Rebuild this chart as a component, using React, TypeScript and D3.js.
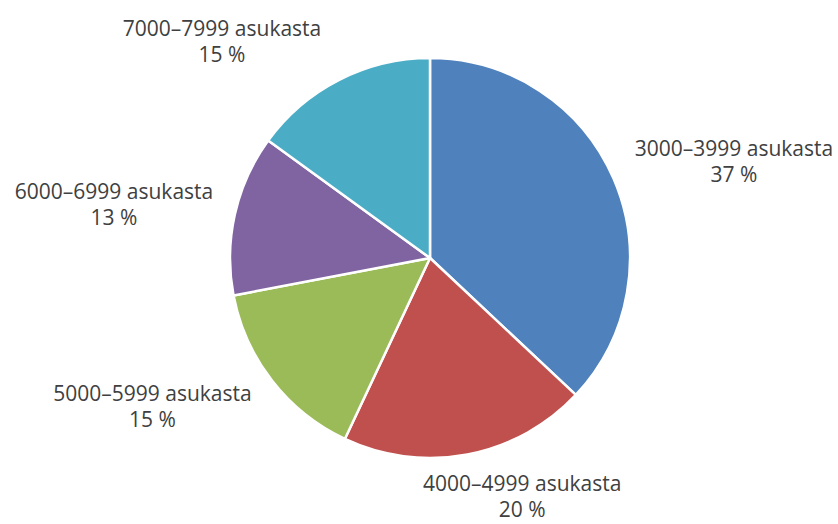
import React from "react";
import * as d3 from "d3";

const categories = [
  "3000–3999 asukasta",
  "4000–4999 asukasta",
  "5000–5999 asukasta",
  "6000–6999 asukasta",
  "7000–7999 asukasta",
];
const values = [37, 20, 15, 13, 15];
const colors = ["#4F81BD", "#C0504D", "#9BBB59", "#8064A2", "#4BACC6"];

const W = 838;
const H = 524;
const cx = 430;
const cy = 258;
const R = 200;
const fontSize = 21;
const lineGap = 26;

// label centre placement relative to pie centre, along slice mid-angle
function labelCenter(mid: number): [number, number] {
  const s = Math.sin(mid);
  const c = Math.cos(mid);
  const a = 207;
  const b = 114;
  const g = Math.min(1, Math.abs(s) / 0.4);
  const x = a * s + Math.sign(s) * b * g;
  const y = -243 * c;
  return [x, y];
}

export default function App() {
  const pie = d3
    .pie<number>()
    .sort(null)
    .value((d) => d)
    .startAngle(0)
    .endAngle(2 * Math.PI);
  const arcs = pie(values);
  const arc = d3.arc<d3.PieArcDatum<number>>().innerRadius(0).outerRadius(R);

  return (
    <svg
      width={W}
      height={H}
      style={{ position: "absolute", left: 0, top: 0, background: "#fff" }}
      fontFamily="'Open Sans', sans-serif"
    >
      <g transform={`translate(${cx},${cy})`}>
        {arcs.map((a, i) => (
          <path
            key={i}
            d={arc(a) || ""}
            fill={colors[i]}
            stroke="#fff"
            strokeWidth={2.5}
            strokeLinejoin="round"
          />
        ))}
        {arcs.map((a, i) => {
          const mid = (a.startAngle + a.endAngle) / 2;
          const [lx, ly] = labelCenter(mid);
          return (
            <text
              key={"t" + i}
              textAnchor="middle"
              fontSize={fontSize}
              fill="#404040"
            >
              <tspan x={lx} y={ly - 6}>
                {categories[i]}
              </tspan>
              <tspan x={lx} y={ly - 6 + lineGap}>
                {values[i] + " %"}
              </tspan>
            </text>
          );
        })}
      </g>
    </svg>
  );
}
